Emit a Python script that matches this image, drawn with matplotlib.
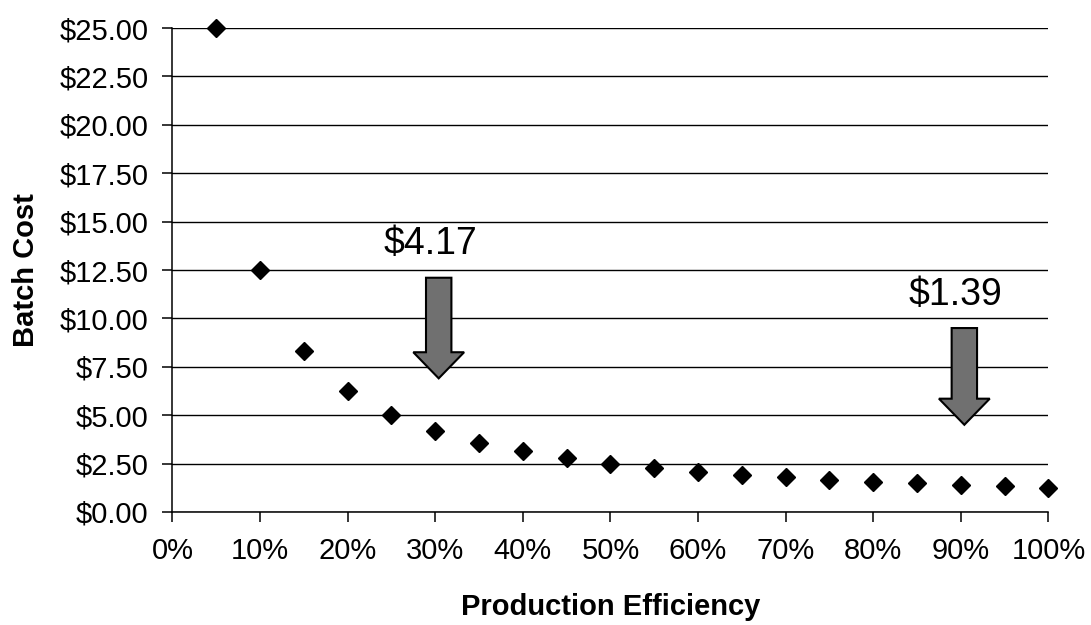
import matplotlib
matplotlib.use('Agg')
import matplotlib.pyplot as plt
from matplotlib.patches import FancyArrow
from matplotlib.ticker import FuncFormatter

# batch cost at each production efficiency step
efficiency = [0.05, 0.10, 0.15, 0.20, 0.25, 0.30, 0.35, 0.40, 0.45, 0.50,
              0.55, 0.60, 0.65, 0.70, 0.75, 0.80, 0.85, 0.90, 0.95, 1.00]
batch_cost = [25.00, 12.50, 8.33, 6.25, 5.00, 4.17, 3.57, 3.13, 2.78, 2.50,
              2.27, 2.08, 1.92, 1.79, 1.67, 1.56, 1.47, 1.39, 1.32, 1.25]

# callouts: (efficiency, label)
callouts = [(0.30, '$4.17'), (0.90, '$1.39')]

plt.rcParams['font.family'] = ['Liberation Sans', 'DejaVu Sans']

fig = plt.figure(figsize=(10.91, 6.25), dpi=100)
ax = fig.add_axes([0.158, 0.181, 0.803, 0.774])

ax.plot(efficiency, batch_cost, linestyle='none', marker='D', markersize=9,
        color='black', zorder=3, clip_on=False)

ax.set_xlim(0, 1.0)
ax.set_ylim(0, 25)
ax.set_xticks([i / 10 for i in range(11)])
ax.set_yticks([i * 2.5 for i in range(11)])
ax.xaxis.set_major_formatter(FuncFormatter(lambda v, p: '%d%%' % round(v * 100)))
ax.yaxis.set_major_formatter(FuncFormatter(lambda v, p: '$%.2f' % v))
ax.tick_params(axis='both', labelsize=21, direction='out', length=7, width=1.1)
ax.tick_params(axis='x', pad=11)
ax.tick_params(axis='y', pad=10)
ax.grid(axis='y', color='black', linewidth=1.0)
ax.set_axisbelow(True)
for s in ['top', 'right']:
    ax.spines[s].set_visible(False)
for s in ['left', 'bottom']:
    ax.spines[s].set_linewidth(1.1)

ax.set_xlabel('Production Efficiency', fontsize=21, fontweight='bold', labelpad=20)
ax.set_ylabel('Batch Cost', fontsize=21, fontweight='bold', labelpad=14)

# gray down arrows with the value written above
arrow_top = {0.30: 12.1, 0.90: 9.5}
arrow_tip = {0.30: 6.9, 0.90: 4.5}
for x, label in callouts:
    top, tip = arrow_top[x], arrow_tip[x]
    ax.add_patch(FancyArrow(x + 0.004, top, 0, tip - top, width=0.029,
                            head_width=0.058, head_length=1.35,
                            length_includes_head=True, facecolor='#707070',
                            edgecolor='black', linewidth=1.5, zorder=4))
    ax.text(x - 0.006, top + 0.8, label, fontsize=27, ha='center', va='bottom',
            zorder=5)

fig.savefig('out.png', dpi=100)
